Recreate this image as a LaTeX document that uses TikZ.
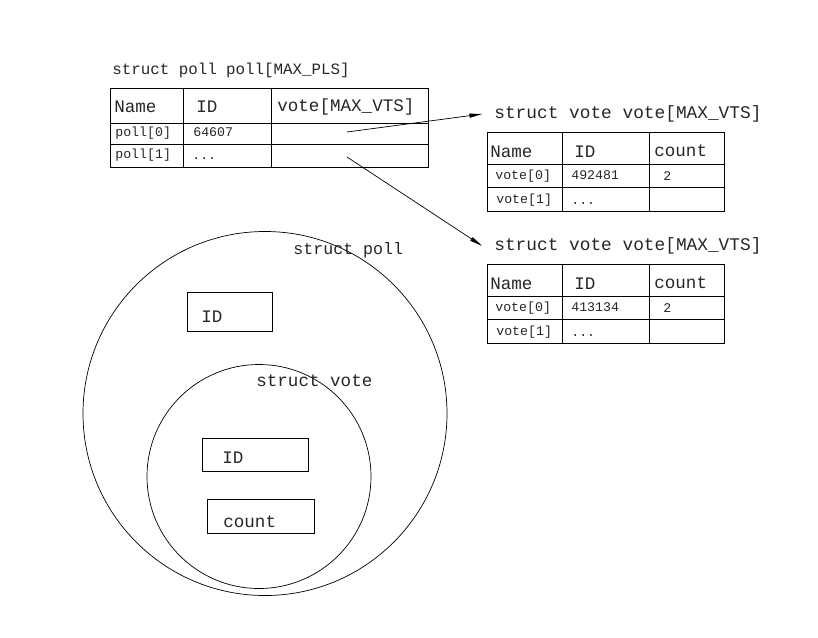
\documentclass[tikz,border=0pt]{standalone}
\usepackage{fontspec}
\setmonofont{Liberation Mono}
\usetikzlibrary{positioning,arrows.meta}
\tikzset{
  txt/.style={font=\ttfamily, inner sep=0pt, anchor=west, text=black!85},
  title/.style={txt, font=\ttfamily\fontsize{13.5}{14}\selectfont},
  head/.style={txt, font=\ttfamily\fontsize{15}{15}\selectfont},
  cell/.style={txt, font=\ttfamily\fontsize{11.3}{11}\selectfont},
  ptr/.style={-{Triangle[length=11pt,width=3.5pt]}},
}
% one struct vote array, shifted down by #2
\newcommand{\votetab}[3]{%
  \begin{scope}[shift={(0,#2)}]
    \node[head, font=\ttfamily\fontsize{15.2}{16}\selectfont] (#1t) at (494,114) {struct vote vote[MAX\_VTS]};
    \draw (487,132) rectangle (724,211);
    \draw (487,164) -- (724,164) (487,187) -- (724,187);
    \draw (562,132) -- (562,211) (649,132) -- (649,211);
    \node[head] (#1n) at (490,152) {Name};
    \node[head] (#1i) at (574,152) {ID};
    \node[head] (#1c) at (654,151) {count};
    \node[cell] (#1r0) at (495,176) {vote[0]};
    \node[cell] (#1d0) at (571,175) {#3};
    \node[cell] (#1c0) at (663,176) {2};
    \node[cell] (#1r1) at (496,200) {vote[1]};
    \node[cell] (#1d1) at (571,204) {...};
  \end{scope}}
\begin{document}
\begin{tikzpicture}[x=0.03cm,y=-0.03cm,line width=0.6pt]
\useasboundingbox (0,0) rectangle (818,637);
% the poll array
\node[title] (pollt) at (112,70) {struct poll poll[MAX\_PLS]};
\draw (110,88) rectangle (428,167);
\draw (110,123) -- (428,123) (110,144) -- (428,144);
\draw (183,88) -- (183,167) (271,88) -- (271,167);
\node[head] (pn) at (114,107) {Name};
\node[head] (pi) at (196,107) {ID};
\node[head] (pv) at (277,107) {vote[MAX\_VTS]};
\node[cell] (pr0) at (115,133) {poll[0]};
\node[cell] (pd0) at (193,132) {64607};
\node[cell] (pr1) at (115,155) {poll[1]};
\node[cell] (pd1) at (192,159) {...};
\coordinate (p0) at (347,132);
\coordinate (p1) at (347,157);
% the two vote arrays
\votetab{va}{0}{492481}
\votetab{vb}{132}{413134}
\draw[ptr] (p0) -- ([xshift=-10]vat.west);
\draw[ptr] (p1) -- ([xshift=-10]vbt.west);
% struct poll holds struct vote
\draw (265,413.5) circle[radius=5.46cm];
\node[head, font=\ttfamily\fontsize{14.2}{15}\selectfont] (sp) at (293,250) {struct poll};
\draw (187,292) rectangle (272,331);
\node[head] (spi) at (201,317) {ID};
\draw (259,476.5) circle[radius=3.36cm];
\node[head] (sv) at (256,381) {struct vote};
\draw (202,438) rectangle (308,471);
\node[head] (svi) at (222,458) {ID};
\draw (207,499) rectangle (314,533);
\node[head] (svc) at (223,522) {count};
\end{tikzpicture}
\end{document}
